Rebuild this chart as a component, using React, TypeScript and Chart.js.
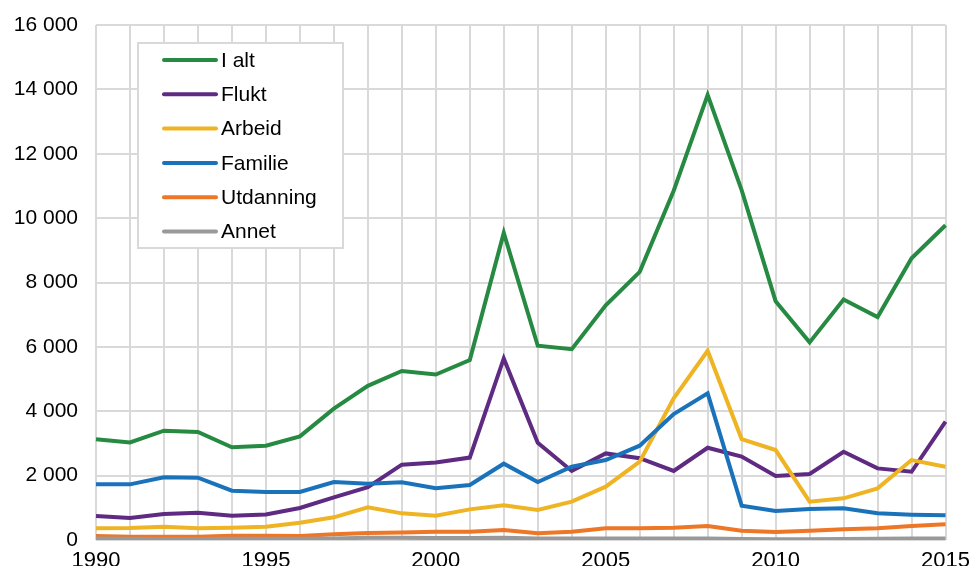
import React, { useEffect, useRef } from "react";
import { Chart, registerables } from "chart.js";

Chart.register(...registerables);

const years = [
  "1990", "1991", "1992", "1993", "1994", "1995", "1996", "1997", "1998", "1999",
  "2000", "2001", "2002", "2003", "2004", "2005", "2006", "2007", "2008", "2009",
  "2010", "2011", "2012", "2013", "2014", "2015",
];

const iAlt = [3130, 3030, 3395, 3355, 2880, 2930, 3220, 4080, 4790, 5250, 5140, 5590, 9540, 6035, 5930, 7290, 8330, 10850, 13830, 10870, 7420, 6140, 7470, 6925, 8750, 9780];
const flukt = [745, 685, 805, 850, 755, 795, 995, 1325, 1640, 2340, 2410, 2560, 5640, 3020, 2145, 2690, 2540, 2145, 2865, 2590, 1990, 2050, 2740, 2225, 2120, 3675];
const arbeid = [362, 372, 414, 362, 383, 414, 538, 704, 1014, 828, 756, 952, 1077, 932, 1190, 1656, 2433, 4400, 5880, 3137, 2795, 1190, 1294, 1605, 2484, 2277];
const familie = [1729, 1729, 1947, 1936, 1532, 1491, 1491, 1801, 1750, 1791, 1605, 1708, 2371, 1801, 2277, 2484, 2930, 3913, 4555, 1066, 900, 963, 984, 828, 786, 766];
const utdanning = [124, 103, 103, 103, 134, 134, 124, 176, 217, 230, 259, 259, 310, 207, 259, 362, 362, 383, 435, 290, 248, 290, 331, 362, 435, 486];
const annet = [50, 35, 30, 30, 35, 35, 40, 50, 70, 70, 60, 60, 70, 50, 50, 50, 45, 45, 50, 30, 25, 25, 30, 40, 50, 50];

const seriesNames = ["I alt", "Flukt", "Arbeid", "Familie", "Utdanning", "Annet"];
const seriesColors = ["#278a42", "#5e2a82", "#efb424", "#1a72bb", "#ee7627", "#999999"];
const seriesData = [iAlt, flukt, arbeid, familie, utdanning, annet];

const FONT = "'Liberation Sans', Arial, sans-serif";

const legendPlugin = {
  id: "boxLegend",
  afterDraw(chart: any) {
    const ctx = chart.ctx;
    const x0 = 138, y0 = 43, w = 205, h = 205;
    ctx.save();
    ctx.fillStyle = "#ffffff";
    ctx.fillRect(x0, y0, w, h);
    ctx.strokeStyle = "#d9d9d9";
    ctx.lineWidth = 2;
    ctx.strokeRect(x0, y0, w, h);
    ctx.font = `21px ${FONT}`;
    ctx.textBaseline = "middle";
    ctx.textAlign = "left";
    chart.data.datasets.forEach((ds: any, i: number) => {
      const y = 60 + i * 34.3;
      ctx.strokeStyle = ds.borderColor;
      ctx.lineWidth = 4;
      ctx.lineCap = "round";
      ctx.beginPath();
      ctx.moveTo(164, y);
      ctx.lineTo(216, y);
      ctx.stroke();
      ctx.fillStyle = "#000000";
      ctx.fillText(ds.label, 221, y + 1);
    });
    ctx.restore();
  },
};

export default function App() {
  const canvasRef = useRef<HTMLCanvasElement | null>(null);

  useEffect(() => {
    document.body.style.margin = "0";
    const canvas = canvasRef.current;
    if (!canvas) return;
    const chart = new Chart(canvas, {
      type: "line",
      data: {
        labels: years,
        datasets: seriesNames.map((name, i) => ({
          label: name,
          data: seriesData[i],
          borderColor: seriesColors[i],
          backgroundColor: seriesColors[i],
          borderWidth: 4,
          pointRadius: 0,
          tension: 0,
          fill: false,
          order: 6 - i,
        })),
      },
      options: {
        responsive: false,
        animation: false,
        maintainAspectRatio: false,
        layout: { padding: { left: 0, right: 29, top: 25, bottom: 0 } },
        plugins: {
          legend: { display: false },
          tooltip: { enabled: false },
        },
        scales: {
          x: {
            offset: false,
            grid: { color: "#d9d9d9", lineWidth: 2, drawTicks: false },
            border: { display: false },
            ticks: {
              autoSkip: false,
              maxRotation: 0,
              minRotation: 0,
              padding: 8,
              color: "#000000",
              font: { family: FONT, size: 22 },
              callback: (_v: any, idx: number) => (Number(years[idx]) % 5 === 0 ? years[idx] : ""),
            },
            afterFit: (scale: any) => {
              scale.height = 26;
            },
          },
          y: {
            min: 0,
            max: 16000,
            grid: { color: "#d9d9d9", lineWidth: 2, drawTicks: false },
            border: { display: false },
            ticks: {
              stepSize: 2000,
              padding: 18,
              color: "#000000",
              font: { family: FONT, size: 21, lineHeight: 0.6 },
              callback: (v: any) => {
                const n = Number(v);
                return n >= 1000 ? `${Math.floor(n / 1000)} ${String(n % 1000).padStart(3, "0")}` : String(n);
              },
            },
            afterFit: (scale: any) => {
              scale.width = 96;
            },
          },
        },
      },
      plugins: [legendPlugin],
    });
    return () => chart.destroy();
  }, []);

  return (
    <div style={{ position: "fixed", left: 0, top: 0, width: 978, height: 566, background: "#fff" }}>
      <canvas ref={canvasRef} width={978} height={566} style={{ display: "block" }} />
    </div>
  );
}
